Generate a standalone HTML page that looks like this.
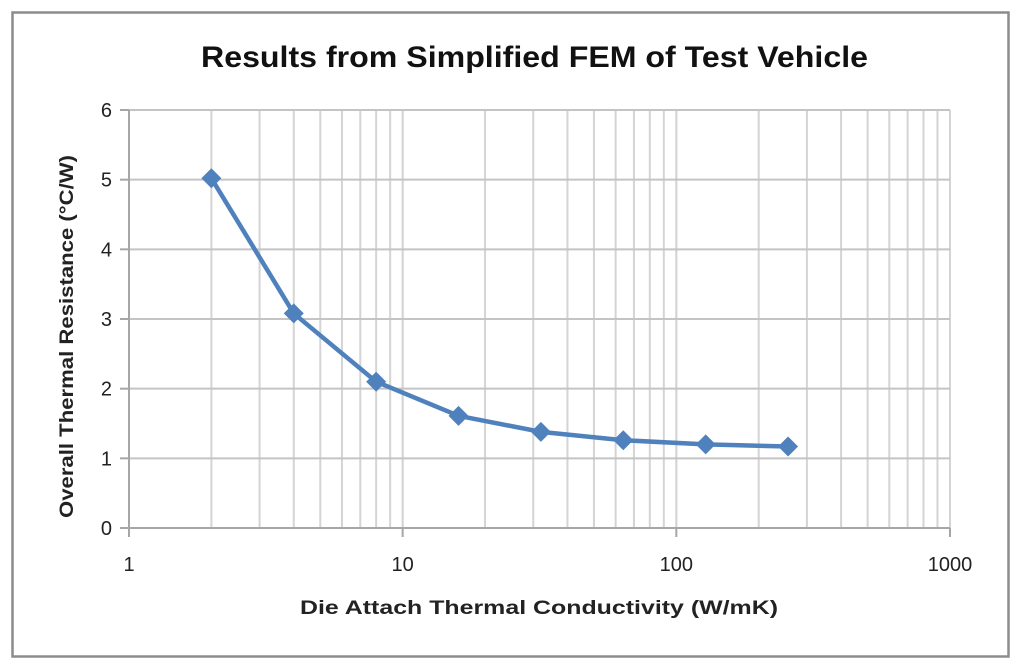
<!DOCTYPE html>
<html><head><meta charset="utf-8"><style>
html,body{margin:0;padding:0;background:#fff;}
svg{display:block;font-family:"Liberation Sans",Calibri,sans-serif;}
</style></head><body>
<svg width="1024" height="670" viewBox="0 0 1024 670" xmlns="http://www.w3.org/2000/svg">
<rect x="0" y="0" width="1024" height="670" fill="#fff"/>
<rect x="12.5" y="12.5" width="996" height="644" fill="#fff" stroke="#8c8c8c" stroke-width="2.5"/>
<text x="201" y="67" font-size="30" font-weight="bold" fill="#111" textLength="667" lengthAdjust="spacingAndGlyphs">Results from Simplified FEM of Test Vehicle</text>
<g id="vgrid" stroke="#d4d4d4" stroke-width="2"></g>
<g id="hgrid" stroke="#c4c4c4" stroke-width="2"></g>
<g id="ticks" stroke="#a6a6a6" stroke-width="2"></g>
<g font-size="20" fill="#222" id="labels"></g>
<text x="300" y="614" font-size="19" font-weight="bold" fill="#222" textLength="478" lengthAdjust="spacingAndGlyphs">Die Attach Thermal Conductivity (W/mK)</text>
<text transform="translate(73,518) rotate(-90)" font-size="19" font-weight="bold" fill="#222" textLength="363" lengthAdjust="spacingAndGlyphs">Overall Thermal Resistance (°C/W)</text>
<polyline id="line" fill="none" stroke="#4f81bd" stroke-width="4.5" stroke-linejoin="round"/>
<g id="markers" fill="#4f81bd"></g>
</svg>
<script>
var L=129,R=950,T=110,B=528,dw=(R-L)/3;
function X(v){return L+Math.log10(v)*dw;}
function Y(v){return B-(B-T)*v/6;}
var ns="http://www.w3.org/2000/svg";
function el(p,t,a,txt){var e=document.createElementNS(ns,t);for(var k in a)e.setAttribute(k,a[k]);if(txt!==undefined)e.textContent=txt;document.getElementById(p).appendChild(e);}
for(var d=1;d<1000;d*=10)for(var m=1;m<=10;m++){var x=X(d*m);if(m==1&&d==1)continue;el("vgrid","line",{x1:x,x2:x,y1:T,y2:B});}
for(var i=1;i<=6;i++)el("hgrid","line",{x1:L,x2:R,y1:Y(i),y2:Y(i)});
el("ticks","line",{x1:L,x2:L,y1:T,y2:B+9});
el("ticks","line",{x1:L-9,x2:R,y1:B,y2:B});
for(var i=0;i<=6;i++){el("ticks","line",{x1:L-9,x2:L,y1:Y(i),y2:Y(i)});el("labels","text",{x:L-17,y:Y(i)+7,"text-anchor":"end"},String(i));}
[1,10,100,1000].forEach(function(v){var x=X(v);el("ticks","line",{x1:x,x2:x,y1:B,y2:B+9});el("labels","text",{x:x,y:B+43,"text-anchor":"middle"},String(v));});
var data=[[2,5.02],[4,3.08],[8,2.1],[16,1.61],[32,1.38],[64,1.26],[128,1.2],[256,1.17]];
var pts=data.map(function(p){return X(p[0])+","+Y(p[1]);}).join(" ");
document.getElementById("line").setAttribute("points",pts);
data.forEach(function(p){var x=X(p[0]),y=Y(p[1]),s=10;el("markers","polygon",{points:(x)+","+(y-s)+" "+(x+s)+","+y+" "+x+","+(y+s)+" "+(x-s)+","+y});});
</script>
</body></html>
